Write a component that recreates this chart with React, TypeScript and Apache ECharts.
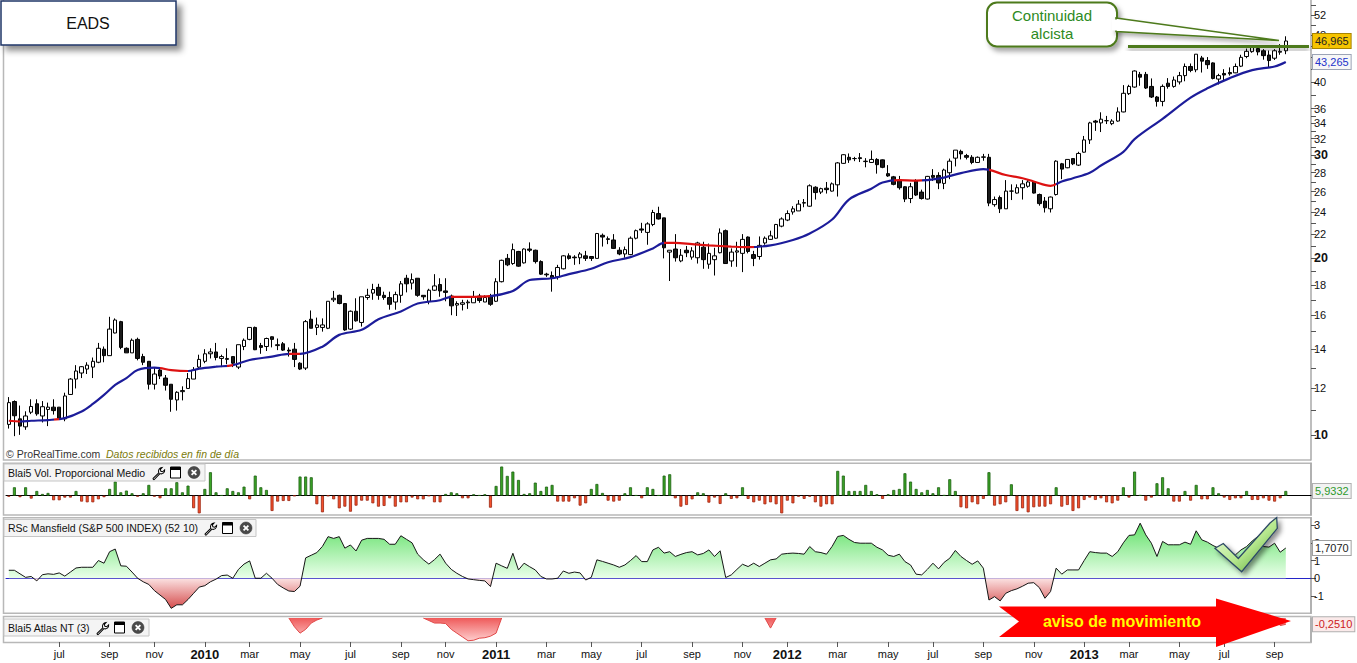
import React, { useEffect, useRef } from "react";
import * as echarts from "echarts";

// ---------- categories (weekly, first week 2009-05-04) ----------
const START_DATE = [2009, 5, 4];
const WEEK_SLOTS = 233;
const MONTH_LABELS: Record<number, string> = { 3: "mar", 5: "may", 7: "jul", 9: "sep", 11: "nov" };

// ---------- weekly candles (items 1..229) ----------
const OPEN = [
  10.42, 11.4, 10.65, 10.32, 10.93, 11.3, 10.77, 11.05, 11.15, 11.15,
  10.65, 11.72, 12.45, 12.75, 12.95, 13.05, 13.3, 14.0, 13.65, 14.92,
  15.6, 14.05, 13.8, 14.55, 13.6, 13.35, 12.2, 12.9, 12.5, 12.2,
  11.47, 11.85, 12.0, 12.45, 13.05, 13.35, 13.75, 13.85, 13.5, 13.45,
  13.6, 13.05, 14.15, 14.55, 15.25, 14.2, 14.15, 14.7, 14.2, 14.3,
  13.95, 14.0, 13.25, 13.0, 15.75, 15.25, 15.25, 15.2, 17.0, 17.3,
  16.75, 15.15, 16.25, 15.55, 17.15, 17.45, 17.85, 17.3, 17.15, 16.85,
  17.3, 18.5, 18.15, 18.5, 17.3, 16.9, 17.65, 18.05, 17.6, 17.25,
  16.65, 16.7, 16.8, 16.8, 17.25, 16.85, 17.25, 16.9, 18.25, 20.0,
  19.6, 20.55, 19.65, 20.75, 20.65, 19.75, 18.8, 18.7, 18.6, 19.2,
  20.2, 20.1, 20.05, 20.2, 20.15, 20.0, 21.9, 21.6, 21.5, 20.65,
  20.35, 20.3, 21.65, 22.45, 22.15, 22.85, 23.85, 23.45, 20.5, 20.75,
  19.8, 20.65, 20.1, 20.05, 20.9, 19.55, 19.9, 20.45, 22.3, 19.8,
  20.5, 20.4, 21.75, 20.3, 20.15, 21.25, 21.55, 21.65, 22.7, 23.25,
  24.0, 24.1, 24.85, 24.55, 26.45, 25.95, 26.35, 26.05, 26.7, 29.05,
  29.75, 29.6, 29.7, 29.25, 29.15, 29.5, 29.45, 27.9, 27.55, 27.2,
  26.5, 25.3, 27.1, 25.95, 25.25, 27.7, 27.7, 26.85, 28.0, 29.65,
  30.45, 29.95, 29.75, 29.15, 29.75, 29.75, 24.7, 25.4, 24.3, 26.05,
  25.85, 26.4, 26.55, 27.0, 25.7, 25.05, 24.3, 25.7, 29.0, 28.55,
  29.6, 28.85, 30.35, 31.85, 34.3, 34.05, 34.35, 33.95, 34.3, 35.55,
  38.2, 39.2, 41.2, 41.2, 39.3, 37.7, 37.05, 39.8, 39.3, 40.0,
  41.0, 42.5, 41.95, 43.95, 43.5, 43.1, 40.45, 41.35, 41.5, 41.45,
  42.55, 44.2, 45.05, 45.6, 45.2, 44.45, 43.9, 44.95, 45.2,
];
const HIGH = [
  11.6, 11.45, 11.22, 10.97, 11.5, 11.5, 11.42, 11.35, 11.5, 11.15,
  11.8, 12.5, 13.15, 13.1, 13.3, 13.55, 14.35, 14.15, 15.9, 15.8,
  15.65, 14.1, 14.6, 14.65, 13.75, 13.35, 13.0, 13.05, 12.65, 12.2,
  11.87, 12.1, 12.75, 13.05, 13.7, 14.0, 14.05, 14.35, 13.7, 14.05,
  13.6, 14.25, 14.6, 15.25, 15.3, 14.35, 14.65, 14.72, 14.6, 14.4,
  14.1, 14.35, 13.3, 15.7, 16.3, 15.85, 15.8, 16.9, 17.6, 17.35,
  16.75, 16.3, 17.1, 17.2, 17.75, 18.1, 18.1, 17.55, 17.55, 17.55,
  18.3, 18.75, 18.85, 18.5, 17.3, 17.75, 18.8, 18.5, 18.5, 17.35,
  16.9, 17.0, 17.0, 17.6, 17.4, 17.3, 17.4, 18.5, 19.9, 20.35,
  21.2, 20.6, 20.8, 21.3, 20.7, 19.85, 18.9, 19.0, 19.5, 20.25,
  20.4, 20.25, 20.5, 20.6, 20.15, 22.1, 22.05, 21.8, 22.0, 20.9,
  20.95, 21.8, 22.4, 23.0, 23.05, 24.2, 24.5, 23.45, 20.65, 22.0,
  20.75, 21.0, 20.9, 21.35, 21.35, 21.2, 20.85, 22.5, 22.4, 20.8,
  21.35, 22.0, 21.8, 20.6, 21.8, 21.8, 22.3, 22.9, 23.5, 24.15,
  24.55, 25.15, 25.25, 26.75, 26.55, 26.4, 27.0, 26.95, 29.2, 30.1,
  30.2, 29.8, 30.25, 29.65, 30.55, 29.65, 29.5, 28.85, 27.65, 27.65,
  26.55, 26.9, 27.3, 26.2, 27.65, 28.4, 28.05, 28.45, 29.6, 30.6,
  30.65, 30.15, 30.0, 29.85, 30.15, 30.15, 25.5, 25.6, 27.2, 26.75,
  26.75, 27.2, 27.2, 27.0, 25.8, 25.45, 25.5, 29.4, 29.1, 29.5,
  29.6, 30.4, 32.35, 34.2, 34.45, 35.5, 35.0, 34.55, 36.2, 39.5,
  39.55, 41.85, 41.6, 41.6, 40.55, 37.85, 39.6, 40.6, 40.85, 41.6,
  43.0, 43.0, 44.6, 44.3, 44.1, 43.2, 41.3, 42.05, 42.35, 43.0,
  44.5, 45.6, 46.2, 45.9, 45.5, 45.25, 45.5, 46.4, 47.85,
];
const LOW = [
  10.25, 9.95, 10.0, 10.2, 10.85, 10.78, 10.5, 10.35, 10.83, 10.6,
  10.55, 11.7, 12.0, 12.5, 12.7, 12.5, 13.25, 13.3, 13.65, 14.9,
  14.0, 13.8, 13.8, 13.4, 13.15, 11.95, 11.95, 12.45, 11.9, 10.95,
  11.0, 11.45, 12.0, 12.45, 13.0, 13.25, 13.5, 13.4, 13.05, 13.2,
  13.05, 12.95, 13.95, 14.5, 13.95, 13.75, 13.9, 14.1, 13.95, 13.9,
  13.6, 13.05, 12.9, 12.9, 15.2, 14.8, 15.0, 15.15, 16.85, 16.7,
  15.05, 15.1, 15.6, 15.3, 17.0, 17.0, 17.0, 17.0, 16.35, 16.35,
  16.8, 17.5, 17.7, 17.2, 17.0, 16.7, 17.6, 17.2, 16.9, 16.0,
  15.95, 16.3, 16.4, 16.8, 16.8, 16.85, 16.6, 16.85, 18.2, 19.4,
  19.5, 19.35, 19.6, 20.5, 19.6, 18.75, 18.6, 17.55, 18.4, 19.15,
  19.9, 19.5, 19.55, 19.8, 19.8, 20.0, 20.95, 21.15, 20.75, 20.25,
  20.05, 20.25, 21.55, 22.1, 21.1, 22.7, 23.3, 20.0, 18.3, 19.75,
  19.7, 20.1, 19.9, 19.6, 19.2, 19.2, 18.7, 20.4, 19.6, 19.35,
  19.35, 18.95, 20.4, 19.4, 19.9, 21.1, 21.5, 21.6, 22.6, 23.15,
  23.75, 24.1, 24.45, 24.5, 25.2, 25.75, 25.8, 26.0, 25.5, 29.0,
  29.1, 29.3, 29.2, 28.6, 29.1, 27.9, 28.5, 27.55, 26.65, 26.2,
  24.95, 24.85, 25.55, 25.2, 25.2, 27.1, 26.25, 26.25, 27.3, 28.7,
  29.5, 29.5, 28.95, 29.15, 29.35, 24.55, 24.5, 23.9, 24.3, 25.15,
  25.8, 25.2, 26.4, 25.8, 24.6, 23.95, 23.95, 25.6, 27.3, 28.5,
  28.85, 28.75, 30.3, 31.35, 33.0, 32.85, 33.9, 33.75, 34.2, 35.5,
  38.0, 39.1, 39.4, 38.9, 37.55, 36.3, 36.35, 38.95, 39.1, 39.6,
  40.1, 41.55, 41.55, 41.5, 42.1, 40.4, 39.6, 40.0, 41.0, 41.4,
  42.4, 43.9, 44.85, 44.4, 43.65, 42.4, 43.6, 44.5, 44.6,
];
const CLOSE = [
  11.35, 10.78, 10.35, 10.77, 11.18, 10.86, 11.17, 11.15, 11.0, 10.67,
  11.65, 12.45, 12.85, 13.07, 13.15, 13.35, 14.05, 13.65, 15.15, 15.7,
  14.1, 13.8, 14.5, 13.5, 13.3, 12.2, 12.7, 12.6, 12.15, 11.5,
  11.82, 11.9, 12.47, 12.9, 13.45, 13.75, 13.85, 13.55, 13.6, 13.5,
  13.25, 14.25, 14.5, 15.25, 13.97, 14.1, 14.6, 14.55, 14.25, 13.95,
  13.9, 13.45, 12.95, 15.6, 15.2, 15.4, 15.4, 16.9, 17.1, 16.75,
  15.1, 16.25, 15.65, 17.2, 17.3, 17.7, 17.3, 17.15, 16.7, 17.35,
  18.1, 18.1, 18.4, 17.3, 17.2, 17.65, 17.95, 17.6, 17.5, 16.6,
  16.75, 16.8, 16.85, 17.2, 16.95, 17.15, 16.7, 18.25, 19.85, 19.5,
  20.7, 19.4, 20.75, 20.65, 19.75, 18.8, 18.75, 18.5, 19.3, 20.2,
  20.0, 20.05, 20.35, 20.0, 20.0, 22.05, 21.75, 21.55, 20.8, 20.35,
  20.7, 21.65, 22.3, 22.35, 22.9, 23.95, 23.35, 20.85, 20.65, 20.05,
  20.25, 20.45, 20.6, 21.25, 19.9, 20.4, 20.2, 22.1, 19.6, 20.5,
  20.6, 21.55, 20.55, 20.0, 21.05, 21.65, 21.85, 22.85, 23.35, 23.85,
  24.3, 24.75, 24.9, 26.6, 25.9, 26.3, 26.2, 26.8, 29.1, 30.05,
  29.45, 29.6, 29.6, 29.3, 29.5, 28.9, 28.6, 27.65, 26.75, 26.4,
  25.25, 26.5, 25.65, 25.3, 27.6, 27.5, 26.9, 28.3, 29.3, 30.6,
  30.15, 29.75, 29.15, 29.75, 29.8, 24.85, 25.2, 24.3, 26.05, 26.05,
  26.4, 26.8, 27.0, 25.85, 24.8, 24.4, 25.45, 29.3, 28.4, 29.5,
  29.0, 30.2, 31.85, 34.05, 34.15, 34.55, 34.35, 34.3, 35.55, 38.25,
  39.3, 41.75, 40.75, 39.05, 37.7, 37.05, 39.3, 39.3, 40.3, 41.0,
  42.5, 41.85, 44.6, 43.4, 42.8, 40.55, 41.0, 41.1, 41.3, 42.5,
  44.05, 45.1, 45.8, 45.0, 44.35, 43.5, 45.2, 45.1, 46.97,
];

// moving average: [item, value]
const MA_POINTS = [
  [1, 10.57], [3, 10.54], [5, 10.57], [8, 10.6], [11, 10.68], [14, 10.96], [16, 11.29], [18, 11.7],
  [20, 12.17], [22, 12.5], [24, 12.9], [27, 13.02], [28, 13.0], [30, 12.9], [33, 12.85], [35, 12.97],
  [38, 13.07], [41, 13.15], [44, 13.42], [48, 13.6], [51, 13.75], [53, 13.75], [57, 14.14], [60, 14.81],
  [64, 15.11], [67, 15.75], [71, 16.24], [74, 16.75], [78, 16.97], [80, 17.2], [83, 17.2], [87, 17.25],
  [91, 17.6], [94, 18.37], [98, 18.5], [101, 18.8], [105, 19.2], [108, 19.7], [112, 20.1], [116, 20.8],
  [118, 21.25], [120, 21.25], [123, 21.15], [126, 21.05], [130, 20.95], [133, 20.9], [137, 21.05],
  [141, 21.5], [144, 22.05], [148, 23.3], [151, 25.2], [155, 26.3], [157, 26.95], [160, 27.2],
  [163, 27.15], [167, 27.35], [171, 27.95], [175, 28.4], [179, 27.75], [182, 27.4], [184, 27.05],
  [187, 26.6], [189, 27.05], [191, 27.4], [194, 28.0], [196, 28.8], [200, 30.4], [202, 31.95],
  [207, 34.6], [212, 37.6], [215, 39.0], [219, 40.6], [223, 41.9], [227, 42.5], [229, 43.265],
];
// weeks where the average is drawn red (falling): [fromItem, toItem]
const MA_FALLING = [[1, 3], [9, 10], [28, 33], [40, 41], [51, 53], [80, 87], [118, 134], [159, 164], [176, 188]];

// Blai5 Vol. Proporcional Medio
const VOLUME = [
  -1.3, 10.6, -2, 10.6, -3.8, 5.9, 2.1, 3.4, -5.9, -5.9,
  -2.5, -2.5, 5.9, -7.6, -8.5, -8.5, -4.7, -2, 8.5, 17.8,
  4.2, 6.4, 3, -1.3, 3, 13.6, -1.3, -3.4, 9.3, 9.3,
  17, 4.2, 12.7, -16, -22.5, 8.5, 29.7, 4.2, 0.4, 9.3,
  5.9, 4.2, 11.4, -4.7, 25.4, 10.6, 7.2, -19.5, -7.6, -6.8,
  -6.8, -0.4, 24.2, 24.2, 23.3, -11, -21.2, -0.4, -4.7, -16.1,
  -14, -20.4, -12.7, -6.4, -6.4, -9.8, -14, -13.1, -3.4, -14,
  -8.5, -8.5, -2.5, -4.7, -4.7, -0.4, -8.5, -8.5, 2.1, 4.2,
  3, -3.4, -3.4, 1.7, 0.4, 1.7, -15.3, 12.3, 36.9, 25,
  30.5, 19.9, 2.1, 3, 16.5, 5.9, 11.4, 13.6, -7.6, -7.6,
  -7.6, -3.4, -12.7, -9.8, 8.5, 14.8, 3.4, -6.4, -7.6, -6.4,
  3, 10.6, 0.4, -3.4, 10.6, 8.5, 0.4, 25.4, 27.1, -3.4,
  -14, -11.9, -4.7, 4.2, 3, -8.9, -2.5, -10.6, 3, -4.2,
  -3.4, 10.6, -4.2, -8.5, -6.4, -11, -8.5, -11, -22.5, -6.4,
  -9.8, -1.3, -4.2, -1.3, -8.5, -14, -11, -11, 31.4, 25.4,
  5.9, 5.9, 5.9, 13.6, 5.9, 1.7, -4.2, 1.7, 7.2, 8.5,
  28.4, 17.8, 8.5, 4.2, 7.2, 3, 10.6, 0.5, 20.8, 5.9,
  -14.8, -16.1, -8.5, -11, -4.2, 29.7, -12.7, -11, -8.5, 14.4,
  -19.5, -16.1, -21.2, -14.8, -14, -14, -11, 10.6, -14, -11.9,
  -19.5, -16.1, -5.5, -2.5, -5.5, -3.4, -8.5, -9.8, -6.4, 10.6,
  -2.5, 30.5, 0.5, -6.4, -2.5, 15.7, 23.3, 9.3, -7.6, -7.6,
  5.9, -6.4, 13.6, -4.7, -4.7, 10.6, 3, -2.5, -5.5, -3.4,
  -3.4, 5.9, -5.5, -5.5, -3.4, -6.4, -7.6, -3.4, 5.9332,
];

// RSc Mansfield (S&P 500 INDEX) (52 10)
const RSC = [
  0.45, 0.45, 0.25, 0.05, 0.1, -0.15, 0.2, 0.25, 0.22, 0.3,
  0.12, 0.35, 0.58, 0.62, 0.62, 0.62, 1.0, 0.85, 1.5, 1.65,
  0.7, 0.68, 0.35, 0.0, -0.2, -0.35, -0.7, -0.95, -1.2, -1.7,
  -1.5, -1.5, -1.2, -0.85, -0.5, -0.42, -0.2, -0.05, 0.15, 0.18,
  0.0, 0.5, 0.8, 0.98, 0.0, 0.0, 0.28, 0.0, -0.35, -0.55,
  -0.72, -0.75, -0.45, 1.15, 1.3, 1.45, 1.8, 2.35, 2.25, 2.35,
  1.7, 1.88, 1.54, 2.15, 2.25, 2.25, 2.25, 2.2, 1.92, 1.92,
  2.4, 2.2, 2.0, 1.36, 1.05, 0.8, 1.05, 1.36, 0.85, 0.5,
  0.28, 0.1, -0.04, -0.08, -0.12, -0.15, -0.47, 0.85, 0.7, 0.56,
  1.41, 0.47, 0.85, 0.65, 0.47, 0.1, -0.04, -0.04, 0.0, 0.41,
  0.28, 0.35, 0.3, -0.1, 0.05, 1.04, 0.95, 0.85, 0.75, 0.62,
  0.75, 1.0, 1.28, 0.94, 0.94, 1.6, 1.75, 1.42, 1.5, 1.23,
  1.35, 1.45, 1.5, 1.32, 1.4, 1.6, 1.23, 1.55, 0.04, 0.19,
  0.5, 0.79, 0.66, 0.85, 0.66, 0.85, 1.04, 1.09, 1.36, 1.4,
  1.42, 1.4, 1.36, 1.79, 1.5, 1.45, 1.36, 1.8, 2.36, 2.42,
  2.2, 2.02, 1.98, 1.98, 1.98, 1.75, 1.6, 1.3, 1.23, 1.36,
  0.94, 0.75, 0.23, 0.19, 0.5, 0.85, 0.53, 0.9, 1.13, 1.57,
  1.23, 1.0, 0.79, 0.98, 0.57, -1.23, -1.04, -1.28, -0.85, -0.7,
  -0.6, -0.45, -0.28, -0.25, -0.53, -1.13, -0.75, 0.57, 0.23, 0.47,
  0.47, 0.47, 1.0, 1.5, 1.45, 1.42, 1.42, 1.23, 1.5, 2.0,
  2.42, 2.45, 3.11, 2.45, 1.98, 1.23, 2.08, 1.89, 1.89, 1.89,
  2.04, 1.92, 2.68, 2.17, 2.04, 1.85, 1.7, 1.79, 1.5, 1.32,
  1.6, 1.79, 2.1, 2.36, 1.79, 1.76, 1.98, 1.47, 1.707,
];

// Blai5 Atlas NT (3): only the weeks with a signal, [item, value]
const ATLAS_POINTS = [
  [51, 0], [52, -0.35], [53, -0.6], [54, -0.45], [55, -0.2], [56, -0.08], [57, 0],
  [75, 0], [76, -0.1], [77, -0.2], [78, -0.2], [79, -0.22], [80, -0.45], [81, -0.6], [82, -0.75],
  [83, -0.9], [84, -0.88], [85, -0.8], [86, -0.78], [87, -0.72], [88, -0.6], [89, 0],
  [136, 0], [137, -0.4], [138, 0],
  [227, 0], [228, -0.3], [229, -0.251],
];

const PRICE_TICKS = [
  10, 11, 12, 13, 14, 15, 16, 17, 18, 19, 20, 21, 22, 23, 24, 25, 26, 27, 28, 29, 30,
  31, 32, 33, 34, 35, 36, 38, 40, 42, 44, 46, 48, 50, 52, 54,
];
const PRICE_LABELS = [10, 12, 14, 16, 18, 20, 22, 24, 26, 28, 30, 32, 34, 36, 40, 44, 48, 52];
const BOLD_PRICES = [10, 20, 30];
const RSC_LABELS = [-1, 0, 1, 2, 3];

const LAST_PRICE = 46.965;
const LAST_MA = 43.265;
const LAST_VOL = 5.9332;
const LAST_RSC = 1.707;
const LAST_ATLAS = -0.251;

const PRICE_MIN = 9.06;
const PRICE_MAX = 55.18;

const FONT = "'Liberation Sans', Arial, Helvetica, sans-serif";
const BLUE = "#1c1c9a";
const RED = "#dd1111";

// ---------------------------------------------------------------
function buildCategories(): string[] {
  const out: string[] = [];
  const t0 = Date.UTC(START_DATE[0], START_DATE[1] - 1, START_DATE[2]);
  for (let i = 0; i < WEEK_SLOTS; i++) {
    const d = new Date(t0 + i * 7 * 86400000);
    out.push(d.toISOString().slice(0, 10));
  }
  return out;
}
function isLabelWeek(index: number, value: string): boolean {
  if (index < 2) return false;
  const parts = String(value).split("-").map(Number);
  return parts[2] <= 7 && parts[1] % 2 === 1;
}

let shapesRegistered = false;
function ensureShapes() {
  if (shapesRegistered) return;
  shapesRegistered = true;
  echarts.graphic.registerShape(
    "wrench",
    echarts.graphic.extendPath(
      "M1 10.4 L5.9 5.5 C5.1 3.4 6.3 0.9 8.9 0.8 L7.3 2.6 L7.7 4.2 L9.3 4.6 L11 2.9 C11.3 5.6 8.9 6.9 6.9 6.2 L2 11.3 C1.6 11.7 0.6 10.8 1 10.4 Z",
      {}
    )
  );
}

function buildOption() {
  const cats = buildCategories();
  const lg = (v: number) => Math.log10(v);
  const candles = OPEN.map((o, i) => [lg(o), lg(CLOSE[i]), lg(LOW[i]), lg(HIGH[i])]);
  const maData = MA_POINTS.map(([it, v]) => [it - 1, lg(v)]);
  const volData = VOLUME.map((v) => ({
    value: v,
    itemStyle: v >= 0 ? { color: "#3aa526", borderColor: "#1d5e12", borderWidth: 0.8 } : { color: "#f4502c", borderColor: "#9a2410", borderWidth: 0.8 },
  }));
  const atlas: (number | null)[] = OPEN.map(() => null);
  ATLAS_POINTS.forEach(([it, v]) => { atlas[it - 1] = v; });

  const gridLeft = 6;
  const gridWidth = 1305;
  const grids = [
    { left: gridLeft, width: gridWidth, top: 0, height: 460 },
    { left: gridLeft, width: gridWidth, top: 463.3, height: 51.7 },
    { left: gridLeft, width: gridWidth, top: 517.7, height: 95.6 },
    { left: gridLeft, width: gridWidth, top: 618, height: 24 },
  ];

  const baseX = (i: number) => ({ type: "category", gridIndex: i, data: cats, boundaryGap: true });

  const xAxis = [
    { ...baseX(0), show: false },
    { ...baseX(1), axisLine: { show: true, onZero: true, lineStyle: { color: "#000", width: 1 } }, axisTick: { show: false }, axisLabel: { show: false } },
    { ...baseX(2), axisLine: { show: true, onZero: true, lineStyle: { color: "#2424c8", width: 1 } }, axisTick: { show: false }, axisLabel: { show: false } },
    {
      ...baseX(3),
      axisLine: { show: true, onZero: false, lineStyle: { color: "#b8b8b8", width: 1 } },
      axisTick: { show: true, alignWithLabel: true, length: 5, interval: (i: number, v: string) => isLabelWeek(i, v), lineStyle: { color: "#555" } },
      axisLabel: {
        show: true,
        interval: (i: number, v: string) => isLabelWeek(i, v),
        margin: 6,
        color: "#111",
        fontSize: 11,
        fontFamily: FONT,
        formatter: (v: string) => {
          const p = String(v).split("-").map(Number);
          if (p[1] === 1) return `{y|${p[0]}}`;
          return MONTH_LABELS[p[1]] || "";
        },
        rich: { y: { fontWeight: "bold", fontSize: 13, fontFamily: FONT, color: "#111" } },
      },
    },
  ];

  const axisLineRight = { show: true, lineStyle: { color: "#a8a8a8", width: 1.5 } };
  const yAxis = [
    {
      type: "value", gridIndex: 0, position: "right", min: lg(PRICE_MIN), max: lg(PRICE_MAX), scale: true,
      splitLine: { show: false }, axisLine: axisLineRight,
      axisTick: { show: true, length: 5, customValues: PRICE_TICKS.map(lg), lineStyle: { color: "#555" } },
      axisLabel: {
        show: true, customValues: PRICE_LABELS.map(lg), margin: 3, color: "#111", fontSize: 11, fontFamily: FONT,
        formatter: (v: number) => {
          const p = Math.round(Math.pow(10, v));
          return BOLD_PRICES.indexOf(p) >= 0 ? `{b|${p}}` : `${p}`;
        },
        rich: { b: { fontWeight: "bold", fontSize: 12.5, fontFamily: FONT, color: "#111" } },
      },
    },
    {
      type: "value", gridIndex: 1, position: "right", min: -24.6, max: 41,
      splitLine: { show: false }, axisLine: axisLineRight, axisTick: { show: false }, axisLabel: { show: false },
    },
    {
      type: "value", gridIndex: 2, position: "right", min: -1.98, max: 3.42,
      splitLine: { show: false }, axisLine: axisLineRight,
      axisTick: { show: true, length: 5, customValues: RSC_LABELS, lineStyle: { color: "#555" } },
      axisLabel: { show: true, customValues: RSC_LABELS, margin: 3, color: "#111", fontSize: 11, fontFamily: FONT },
    },
    {
      type: "value", gridIndex: 3, position: "right", min: -0.95, max: 0,
      splitLine: { show: false }, axisLine: axisLineRight, axisTick: { show: false }, axisLabel: { show: false },
    },
  ];

  const rscTop = 517.7, rscBottom = 613.3, rscZero = 0.634;
  const series = [
    {
      type: "candlestick", name: "EADS", xAxisIndex: 0, yAxisIndex: 0, data: candles, barWidth: 4,
      itemStyle: { color: "#ffffff", color0: "#1a1a1a", borderColor: "#000", borderColor0: "#000", borderWidth: 1 },
      z: 3,
    },
    {
      type: "line", name: "MA", xAxisIndex: 0, yAxisIndex: 0, data: maData, smooth: 0.35, symbol: "none",
      lineStyle: { width: 2.2 }, z: 4,
    },
    { type: "bar", name: "Vol", xAxisIndex: 1, yAxisIndex: 1, data: volData, barWidth: 3, z: 3 },
    {
      type: "line", name: "RSC", xAxisIndex: 2, yAxisIndex: 2, data: RSC, symbol: "none",
      lineStyle: { color: "#151515", width: 1 },
      areaStyle: {
        origin: "auto", opacity: 1,
        color: {
          type: "linear", x: 0, y: rscTop, x2: 0, y2: rscBottom, global: true,
          colorStops: [
            { offset: 0, color: "#52dc5a" },
            { offset: rscZero, color: "#eaffea" },
            { offset: rscZero, color: "#fbe2e2" },
            { offset: 1, color: "#cf3434" },
          ],
        },
      },
      z: 3,
    },
    {
      type: "line", name: "Atlas", xAxisIndex: 3, yAxisIndex: 3, data: atlas, symbol: "none", connectNulls: false,
      lineStyle: { color: "#e04848", width: 1 },
      areaStyle: {
        origin: "end", opacity: 1,
        color: {
          type: "linear", x: 0, y: 618, x2: 0, y2: 642, global: true,
          colorStops: [{ offset: 0, color: "#ef5a5a" }, { offset: 1, color: "#ffd4d4" }],
        },
      },
      z: 3,
    },
  ];

  return {
    animation: false,
    backgroundColor: "#ffffff",
    grid: grids,
    xAxis,
    yAxis,
    series,
    visualMap: [
      {
        type: "piecewise", show: false, seriesIndex: 1, dimension: 0,
        pieces: MA_FALLING.map(([a, b]) => ({ gte: a - 1, lte: b - 1, color: RED })),
        outOfRange: { color: BLUE },
      },
    ],
  };
}

function txt(x: number, y: number, text: string, font: string, fill: string, align = "left", z = 110, extra: any = {}) {
  return {
    type: "text", x, y, z, silent: true,
    style: { text, font, fill, align, textAlign: align, verticalAlign: "middle", textVerticalAlign: "middle", ...extra },
  };
}

function icons(x: number, y: number) {
  return [
    { type: "wrench", x: x, y: y + 0.5, scaleX: 1.15, scaleY: 1.15, z: 112, style: { fill: "#fff", stroke: "#000", lineWidth: 0.9 } },
    { type: "rect", z: 112, shape: { x: x + 18.5, y: y + 1, width: 10, height: 11 }, style: { fill: "#fff", stroke: "#000", lineWidth: 1 } },
    { type: "rect", z: 113, shape: { x: x + 18.5, y: y + 1, width: 10, height: 3 }, style: { fill: "#000" } },
    { type: "circle", z: 112, shape: { cx: x + 42, cy: y + 6.5, r: 6 }, style: { fill: "#4a4a4a", stroke: "#333", lineWidth: 0.5 } },
    { type: "line", z: 113, shape: { x1: x + 39.6, y1: y + 4.1, x2: x + 44.4, y2: y + 8.9 }, style: { stroke: "#fff", lineWidth: 1.8 } },
    { type: "line", z: 113, shape: { x1: x + 44.4, y1: y + 4.1, x2: x + 39.6, y2: y + 8.9 }, style: { stroke: "#fff", lineWidth: 1.8 } },
  ];
}

function labelBox(text: string, y: number, fill: string, bg: string, border: string) {
  return txt(1313, y, text, `11px ${FONT}`, fill, "left", 120, {
    backgroundColor: bg, borderColor: border, borderWidth: 1, padding: [2, 2, 1, 2],
  });
}

function buildGraphics(chart: any) {
  const lg = (v: number) => Math.log10(v);
  const yPrice = chart.convertToPixel({ yAxisIndex: 0 }, lg(LAST_PRICE));
  const yMa = chart.convertToPixel({ yAxisIndex: 0 }, lg(LAST_MA));
  const yVol = chart.convertToPixel({ yAxisIndex: 1 }, LAST_VOL);
  const yRsc = chart.convertToPixel({ yAxisIndex: 2 }, LAST_RSC);
  const yAtl = chart.convertToPixel({ yAxisIndex: 3 }, LAST_ATLAS);

  const frameStyle = { fill: "none", stroke: "#b8b8b8", lineWidth: 1.5 };
  const green = "#4d7a1c";
  const els: any[] = [
    // panel frames
    { type: "polyline", z: 0, silent: true, shape: { points: [[3.5, 0], [3.5, 460], [1311, 460]] }, style: frameStyle },
    { type: "rect", z: 0, silent: true, shape: { x: 3.5, y: 463.3, width: 1307.5, height: 51.7 }, style: frameStyle },
    { type: "rect", z: 0, silent: true, shape: { x: 3.5, y: 517.7, width: 1307.5, height: 95.6 }, style: frameStyle },
    { type: "rect", z: 0, silent: true, shape: { x: 3.5, y: 616.5, width: 1307.5, height: 26 }, style: frameStyle },

    // EADS title box
    {
      type: "rect", z: 110, shape: { x: 1, y: 1, width: 175, height: 44 },
      style: { fill: "#fff", stroke: "#1f3668", lineWidth: 1.5, shadowBlur: 6, shadowOffsetX: 5, shadowOffsetY: 5, shadowColor: "rgba(0,0,0,0.45)" },
    },
    txt(88, 23, "EADS", `16px ${FONT}`, "#111", "center", 111),

    // copyright
    txt(6, 453.5, "© ProRealTime.com", `10.5px ${FONT}`, "#333", "left", 110),
    txt(106, 453.5, "Datos recibidos en fin de día", `italic 10.5px ${FONT}`, "#7a7a0a", "left", 110),

    // panel title boxes
    { type: "rect", z: 110, shape: { x: 4, y: 464, width: 201, height: 17 }, style: { fill: "#f4f4f4", stroke: "#c6c6c6", lineWidth: 1 } },
    txt(8, 472.5, "Blai5 Vol. Proporcional Medio", `10.5px ${FONT}`, "#111", "left", 111),
    ...icons(152, 466),
    { type: "rect", z: 110, shape: { x: 4, y: 519.5, width: 252, height: 17 }, style: { fill: "#f4f4f4", stroke: "#c6c6c6", lineWidth: 1 } },
    txt(8, 528, "RSc Mansfield (S&P 500 INDEX) (52 10)", `10.5px ${FONT}`, "#111", "left", 111),
    ...icons(204, 521.5),
    { type: "rect", z: 110, shape: { x: 4, y: 619, width: 145, height: 17 }, style: { fill: "#f4f4f4", stroke: "#c6c6c6", lineWidth: 1 } },
    txt(8, 627.5, "Blai5 Atlas NT (3)", `10.5px ${FONT}`, "#111", "left", 111),
    ...icons(96, 621),

    // resistance line (drawn as a thin rect so that its shadow renders in SVG)
    {
      type: "rect", z: 115, shape: { x: 1128, y: 45, width: 181, height: 3 },
      style: { fill: green, shadowBlur: 4, shadowOffsetY: 3, shadowColor: "rgba(0,0,0,0.35)" },
    },

    // speech bubble
    {
      type: "rect", z: 116, shape: { x: 987, y: 2.5, width: 130, height: 44, r: 10 },
      style: { fill: "#fff", stroke: green, lineWidth: 2, shadowBlur: 5, shadowOffsetX: 3, shadowOffsetY: 4, shadowColor: "rgba(0,0,0,0.35)" },
    },
    {
      type: "polygon", z: 117, shape: { points: [[1116, 18], [1279, 40.5], [1116, 31.5]] },
      style: { fill: "#fff", stroke: green, lineWidth: 1.6, shadowBlur: 4, shadowOffsetY: 3, shadowColor: "rgba(0,0,0,0.3)" },
    },
    { type: "rect", z: 118, shape: { x: 1112, y: 19.5, width: 6, height: 11 }, style: { fill: "#fff" } },
    txt(1052, 15.5, "Continuidad", `15px ${FONT}`, "#2d8a22", "center", 119),
    txt(1052, 33.5, "alcista", `15px ${FONT}`, "#2d8a22", "center", 119),

    // check mark
    {
      type: "polygon", z: 118,
      shape: { points: [[1215, 548.3], [1223.3, 543.5], [1238.3, 558.5], [1270, 523], [1276.7, 517.5], [1277.3, 528.3], [1241.7, 571.7]] },
      style: {
        fill: { type: "linear", x: 0, y: 0, x2: 1, y2: 1, colorStops: [{ offset: 0, color: "#f2ffe6" }, { offset: 0.55, color: "#b6e88e" }, { offset: 1, color: "#4f9f2a" }] },
        stroke: "#2f4a66", lineWidth: 1.3, shadowBlur: 5, shadowOffsetX: 3, shadowOffsetY: 3, shadowColor: "rgba(0,0,0,0.45)",
      },
    },

    // red arrow
    {
      type: "polygon", z: 118,
      shape: { points: [[999, 606.5], [1216, 606.5], [1216, 598.5], [1291, 621], [1216, 647], [1216, 637], [999, 637], [1019, 621.5]] },
      style: { fill: "#ff0000" },
    },
    txt(1122, 621.5, "aviso de movimiento", `bold 16px ${FONT}`, "#ffff00", "center", 119),

    // last-value boxes on the right axes
    labelBox("46,965", yPrice, "#222", "#f6c400", "#a88400"),
    labelBox("43,265", yMa, "#2233cc", "#f7f7f7", "#9ca4b6"),
    labelBox("5,9332", yVol, "#2e9a2e", "#f2f2f2", "#b0b0b0"),
    labelBox("1,7070", yRsc, "#222", "#ffffff", "#a0a0a0"),
    labelBox("-0,2510", yAtl, "#cc2020", "#fbeaea", "#b0b0b0"),
  ];
  return els;
}

export default function App() {
  const ref = useRef<HTMLDivElement>(null);
  useEffect(() => {
    if (!ref.current) return;
    ensureShapes();
    const chart = echarts.init(ref.current, undefined, { renderer: "svg" });
    chart.setOption(buildOption() as any);
    chart.setOption({ graphic: { elements: buildGraphics(chart) } } as any);
    return () => chart.dispose();
  }, []);
  return (
    <div
      ref={ref}
      style={{ position: "fixed", left: 0, top: 0, width: 1357, height: 663, background: "#fff" }}
    />
  );
}
